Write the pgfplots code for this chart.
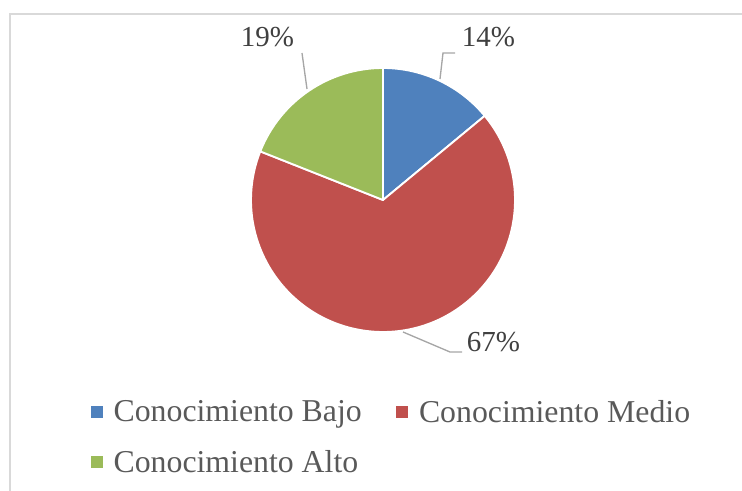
\documentclass[border=0pt]{standalone}
\usepackage{pgfplots}
\pgfplotsset{compat=1.18}
\usepackage{pgfplotstable}
\usepackage{fontspec}
\setmainfont{Liberation Serif}
\definecolor{cBajo}{HTML}{4F81BD}
\definecolor{cMedio}{HTML}{C0504D}
\definecolor{cAlto}{HTML}{9BBB59}
\definecolor{txtgray}{HTML}{595959}
\definecolor{lblgray}{HTML}{404040}
\definecolor{leadgray}{HTML}{A6A6A6}
\definecolor{framegray}{HTML}{D9D9D9}
\pgfplotstableread{
label value
Bajo 14
Medio 67
Alto 19
}\piedata
\begin{document}
\begin{tikzpicture}
\pgfplotstablegetelem{0}{value}\of\piedata \let\vA\pgfplotsretval
\pgfplotstablegetelem{1}{value}\of\piedata \let\vB\pgfplotsretval
\pgfplotstablegetelem{2}{value}\of\piedata \let\vC\pgfplotsretval
\pgfmathsetmacro{\aA}{90-3.6*\vA}
\pgfmathsetmacro{\aB}{\aA-3.6*\vB}
\pgfmathsetmacro{\aC}{\aB-3.6*\vC}
\begin{axis}[
  width=556.5pt, height=368.25pt, scale only axis,
  xmin=0, xmax=742, ymin=0, ymax=491,
  hide axis, clip=false,
  legend columns=2,
  legend cell align=left,
  legend style={draw=none, fill=none, anchor=north west,
    at={(axis description cs:0.117,0.1914)},
    font=\fontsize{23.85}{28}\selectfont, text=txtgray,
    nodes={inner sep=0pt},
    row sep=19.5pt,
    /tikz/column 1/.style={column sep=8.25pt},
    /tikz/column 2/.style={column sep=26pt},
    /tikz/column 3/.style={column sep=8.25pt}},
  legend image code/.code={\fill[#1] (0pt,-4.1pt) rectangle (8.25pt,4.1pt);},
]
\coordinate (bbll) at (axis cs:0,0);
\coordinate (bbur) at (axis cs:742,491);
\draw[framegray, line width=1.5pt] (axis cs:10,0) -- (axis cs:10,477) -- (axis cs:742,477);
\filldraw[fill=cBajo, draw=white, line width=1.4pt, line join=round] (axis cs:383,291) -- ++(90:99pt) arc[start angle=90, end angle=\aA, radius=99pt] -- cycle;
\filldraw[fill=cMedio, draw=white, line width=1.4pt, line join=round] (axis cs:383,291) -- ++(\aA:99pt) arc[start angle=\aA, end angle=\aB, radius=99pt] -- cycle;
\filldraw[fill=cAlto, draw=white, line width=1.4pt, line join=round] (axis cs:383,291) -- ++(\aB:99pt) arc[start angle=\aB, end angle=\aC, radius=99pt] -- cycle;
\draw[leadgray, line width=1pt] (axis cs:440,412) -- (axis cs:443,438) -- (axis cs:455,438);
\draw[leadgray, line width=1pt] (axis cs:307,402) -- (axis cs:302,438);
\draw[leadgray, line width=1pt] (axis cs:403,159) -- (axis cs:450,139) -- (axis cs:462,139);
\node[anchor=base, inner sep=0pt, text=lblgray, font=\fontsize{21.75}{26}\selectfont] at (axis cs:488.5,444) {14\%};
\node[anchor=base, inner sep=0pt, text=lblgray, font=\fontsize{21.75}{26}\selectfont] at (axis cs:267.5,444) {19\%};
\node[anchor=base, inner sep=0pt, text=lblgray, font=\fontsize{21.75}{26}\selectfont] at (axis cs:493.5,139) {67\%};
\addlegendimage{cBajo}
\addlegendentry{Conocimiento Bajo}
\addlegendimage{cMedio}
\addlegendentry{Conocimiento Medio}
\addlegendimage{cAlto}
\addlegendentry{Conocimiento Alto}
\end{axis}
\pgfresetboundingbox
\path (bbll) rectangle (bbur);
\end{tikzpicture}
\end{document}
